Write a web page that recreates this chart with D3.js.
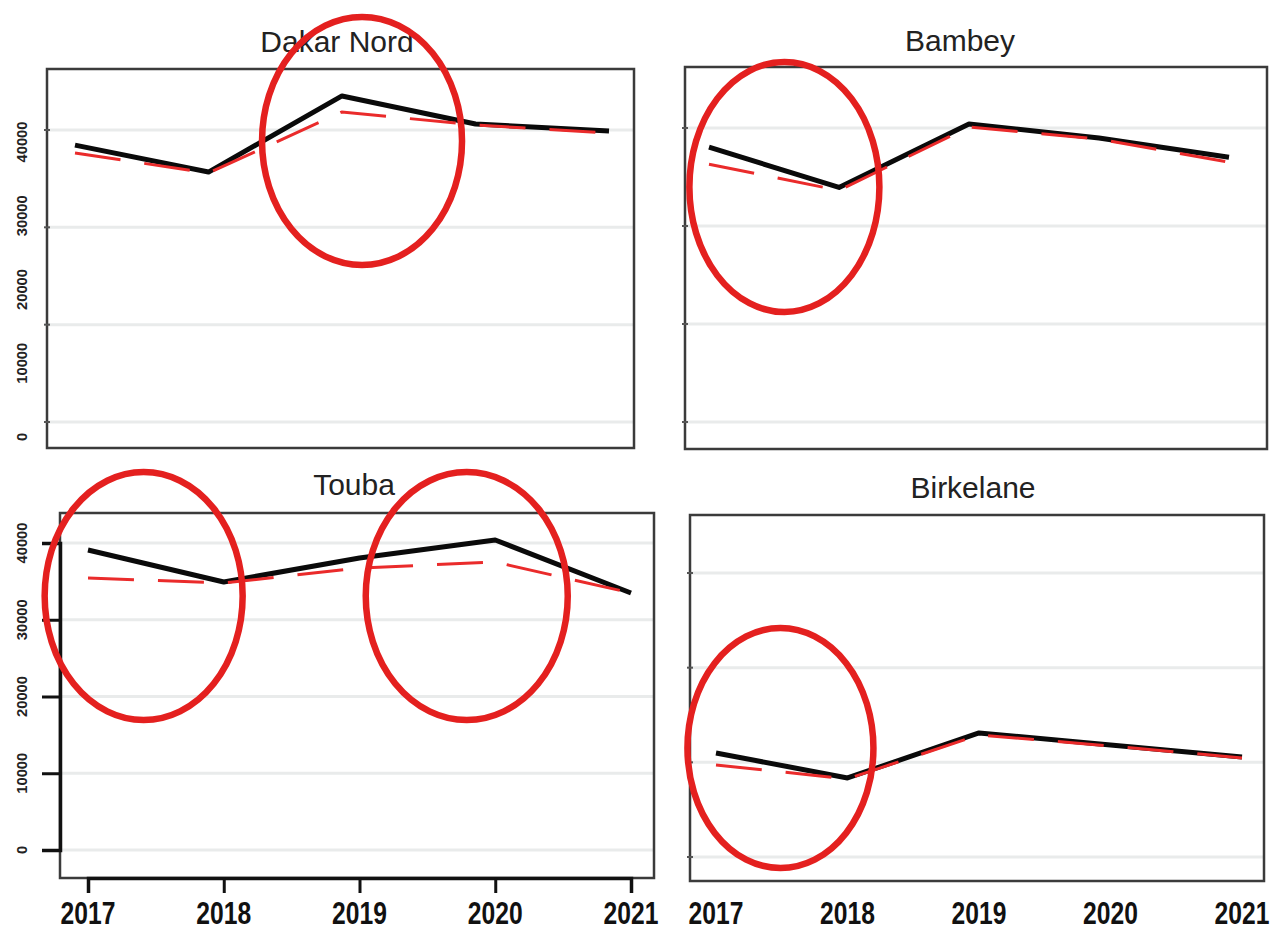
<!DOCTYPE html>
<html>
<head>
<meta charset="utf-8">
<script src="https://cdn.jsdelivr.net/npm/d3@7/dist/d3.min.js"></script>
<style>
  html, body { margin: 0; padding: 0; background: #fff; }
  svg { display: block; }
</style>
</head>
<body>
<svg id="chart" width="1281" height="934"></svg>
<script>
// ---------------- data ----------------
const years = [2017, 2018, 2019, 2020, 2021];
const yearLabels = ["2017", "2018", "2019", "2020", "2021"];
const districts = ["Dakar Nord", "Bambey", "Touba", "Birkelane"];

// observed (black solid) and estimated (red dashed)
const dakarObserved   = [38450, 35680, 43500, 40620, 39900];
const dakarEstimated  = [37640, 35580, 41850, 40510, 39690];
const bambeyObserved  = [38050, 33940, 40410, 38970, 37020];
const bambeyEstimated = [36300, 33630, 40100, 38870, 36510];
const toubaObserved   = [39090, 34920, 38050, 40390, 33490];
const toubaEstimated  = [35440, 34790, 36740, 37520, 33490];
const birkObserved    = [20990, 18350, 23100, 21840, 20570];
const birkEstimated   = [19730, 18250, 22890, 21730, 20470];

const yTickValues = [0, 10000, 20000, 30000, 40000];
const yTickLabels = ["0", "10000", "20000", "30000", "40000"];
const gridValuesTop = [10000, 20000, 30000, 40000];
const gridValuesTouba = [0, 10000, 20000, 30000, 40000];

// highlighted (circled) zones: [district index, year, value]
const highlightPanels = [0, 1, 2, 2, 3];
const highlightYears  = [2019.15, 2017.58, 2017.41, 2019.79, 2017.49];
const highlightValues = [38870, 33980, 33090, 33090, 21510];

// ---------------- layout ----------------
const svg = d3.select("#chart");
const RED = "#e4201f";
const panels = [
  { name: districts[0], obs: dakarObserved,  est: dakarEstimated,
    frame: [47, 634, 69, 448], xr: [75, 609], yd: [10000, 40000], yr: [422, 130],
    grid: gridValuesTop, title: [337, 52], yLabels: [437, 142], xAxis: false },
  { name: districts[1], obs: bambeyObserved, est: bambeyEstimated,
    frame: [685, 1267, 67, 449], xr: [709, 1229], yd: [10000, 40000], yr: [422, 128],
    grid: gridValuesTop, title: [960, 51], yLabels: null, xAxis: false },
  { name: districts[2], obs: toubaObserved,  est: toubaEstimated,
    frame: [60, 654, 513, 878], xr: [88, 631], yd: [0, 40000], yr: [850, 543],
    grid: gridValuesTouba, title: [354, 495], yLabels: [850, 543], xAxis: "ticks" },
  { name: districts[3], obs: birkObserved,   est: birkEstimated,
    frame: [690, 1264, 515, 881], xr: [716, 1242], yd: [10000, 40000], yr: [857, 573],
    grid: gridValuesTop, title: [973, 498], yLabels: null, xAxis: "labels" }
];

panels.forEach((p, i) => {
  const g = svg.append("g");
  const x = d3.scaleLinear().domain([2017, 2021]).range(p.xr);
  const y = d3.scaleLinear().domain(p.yd).range(p.yr);
  p.x = x; p.y = y;
  const [fx0, fx1, fy0, fy1] = p.frame;

  // gridlines
  g.selectAll(".grid").data(p.grid).join("line")
    .attr("x1", fx0).attr("x2", fx1)
    .attr("y1", d => y(d)).attr("y2", d => y(d))
    .attr("stroke", "#e9ebeb").attr("stroke-width", 3);

  // frame
  g.append("rect")
    .attr("x", fx0).attr("y", fy0)
    .attr("width", fx1 - fx0).attr("height", fy1 - fy0)
    .attr("fill", "none").attr("stroke", "#3b3b3b").attr("stroke-width", 2.5);

  // small ticks on left border
  if (i !== 2) {
    g.selectAll(".lt").data(p.grid).join("line")
      .attr("x1", fx0 - 3).attr("x2", fx0 + 3)
      .attr("y1", d => y(d)).attr("y2", d => y(d))
      .attr("stroke", "#555").attr("stroke-width", 2);
  }

  // title
  g.append("text")
    .attr("x", p.title[0]).attr("y", p.title[1])
    .attr("text-anchor", "middle")
    .attr("font-family", "Liberation Sans, Arial, sans-serif")
    .attr("font-size", 30)
    .attr("fill", "#222")
    .text(p.name);

  // y tick labels (rotated)
  if (p.yLabels) {
    const yl = d3.scaleLinear().domain([0, 40000]).range(p.yLabels);
    g.selectAll(".yl").data(yTickValues).join("text")
      .attr("transform", d => `translate(27,${yl(d)}) rotate(-90) scale(1.05,1.1)`)
      .attr("text-anchor", "middle")
      .attr("font-family", "Liberation Sans, Arial, sans-serif")
      .attr("font-weight", "bold")
      .attr("font-size", 14)
      .attr("fill", "#222")
      .text((d, k) => yTickLabels[k]);
  }

  if (i === 2) {
    // heavy left & bottom axes with outside ticks
    const yAxis = d3.axisLeft(y).tickValues(yTickValues).tickSize(18).tickFormat("");
    const ya = g.append("g").attr("transform", `translate(${fx0},0)`).call(yAxis);
    ya.select(".domain").attr("stroke", "#111").attr("stroke-width", 3.5);
    ya.selectAll(".tick line").attr("stroke", "#111").attr("stroke-width", 3);
    const xAxis = d3.axisBottom(x).tickValues(years).tickSize(15).tickFormat("");
    const xa = g.append("g").attr("transform", `translate(0,${fy1})`).call(xAxis);
    xa.select(".domain").attr("stroke", "#111").attr("stroke-width", 3.5);
    xa.selectAll(".tick line").attr("stroke", "#111").attr("stroke-width", 3);
  }

  if (p.xAxis) {
    g.selectAll(".xl").data(years).join("text")
      .attr("transform", d => `translate(${x(d)},924) scale(0.88,1.1)`)
      .attr("text-anchor", "middle")
      .attr("font-family", "Liberation Sans, Arial, sans-serif")
      .attr("font-weight", "bold")
      .attr("font-size", 28)
      .attr("fill", "#111")
      .text((d, k) => yearLabels[k]);
  }

  const line = d3.line().x((d, k) => x(years[k])).y(d => y(d));

  // observed – solid black
  g.append("path").datum(p.obs)
    .attr("d", line)
    .attr("fill", "none").attr("stroke", "#0a0a0a")
    .attr("stroke-width", 5).attr("stroke-linejoin", "round");

  // estimated – red dashed on top
  g.append("path").datum(p.est)
    .attr("d", line)
    .attr("fill", "none").attr("stroke", "#ea2b2b")
    .attr("stroke-width", 3).attr("stroke-dasharray", "46,24");
});

// red highlight ellipses
const ellipseR = [[100, 124], [95, 125], [99, 124], [101, 124], [93, 120]];
highlightPanels.forEach((pi, k) => {
  const p = panels[pi];
  svg.append("ellipse")
    .attr("cx", p.x(highlightYears[k]))
    .attr("cy", p.y(highlightValues[k]))
    .attr("rx", ellipseR[k][0]).attr("ry", ellipseR[k][1])
    .attr("fill", "none").attr("stroke", RED).attr("stroke-width", 6.5);
});
</script>
</body>
</html>
